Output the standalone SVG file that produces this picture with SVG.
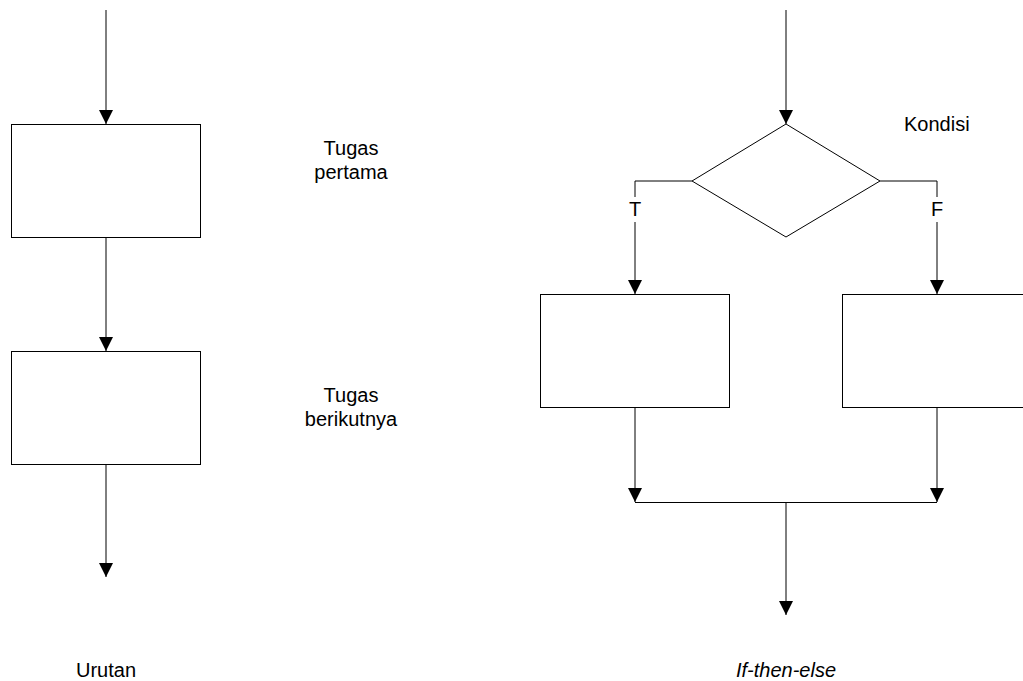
<svg xmlns="http://www.w3.org/2000/svg" width="1023" height="681" viewBox="0 0 1023 681">
<style>
.box{fill:#fff;stroke:#000;stroke-width:1}
.ln{fill:none;stroke:#000;stroke-width:1}
.t{font-family:"Liberation Sans",Arial,sans-serif;font-size:20px;fill:#000;text-anchor:middle}
</style>
<defs>
<marker id="ah" markerUnits="userSpaceOnUse" markerWidth="14" markerHeight="14" refX="14" refY="7" orient="auto" viewBox="0 0 14 14">
<path d="M0,0 L14,7 L0,14 z" fill="#000"/>
</marker>
</defs>
<rect width="1023" height="681" fill="#fff"/>
<g id="connectors">
<line class="ln" x1="106" y1="10" x2="106" y2="124" marker-end="url(#ah)"/>
<line class="ln" x1="106" y1="238" x2="106" y2="351" marker-end="url(#ah)"/>
<line class="ln" x1="106" y1="465" x2="106" y2="577" marker-end="url(#ah)"/>
<line class="ln" x1="786" y1="10" x2="786" y2="124" marker-end="url(#ah)"/>
<polyline class="ln" points="692,181 635,181 635,197"/>
<line class="ln" x1="635" y1="222" x2="635" y2="294" marker-end="url(#ah)"/>
<polyline class="ln" points="880,181 937,181 937,197"/>
<line class="ln" x1="937" y1="222" x2="937" y2="294" marker-end="url(#ah)"/>
<line class="ln" x1="635" y1="407" x2="635" y2="502" marker-end="url(#ah)"/>
<line class="ln" x1="937" y1="407" x2="937" y2="502" marker-end="url(#ah)"/>
<line class="ln" x1="635" y1="502.5" x2="937" y2="502.5"/>
<line class="ln" x1="786" y1="502" x2="786" y2="615" marker-end="url(#ah)"/>
</g>
<g id="task1">
<rect class="box" x="11.5" y="124.5" width="189" height="113"/>
<text class="t" x="351" y="155">Tugas</text>
<text class="t" x="351" y="179">pertama</text>
</g>
<g id="task2">
<rect class="box" x="11.5" y="351.5" width="189" height="113"/>
<text class="t" x="351" y="402">Tugas</text>
<text class="t" x="351" y="426">berikutnya</text>
</g>
<g id="condition">
<polygon class="box" points="786,124 880,181 786,237 692,181"/>
<text class="t" x="904" y="131" style="text-anchor:start">Kondisi</text>
</g>
<g id="labelT"><text class="t" x="635" y="216">T</text></g>
<g id="labelF"><text class="t" x="937" y="216">F</text></g>
<g id="taskT">
<rect class="box" x="540.5" y="294.5" width="189" height="113"/>
</g>
<g id="taskF">
<rect class="box" x="842.5" y="294.5" width="189" height="113"/>
</g>
<g id="captions">
<text class="t" x="106" y="677">Urutan</text>
<text class="t" x="786" y="677" font-style="italic">If-then-else</text>
</g>
</svg>
